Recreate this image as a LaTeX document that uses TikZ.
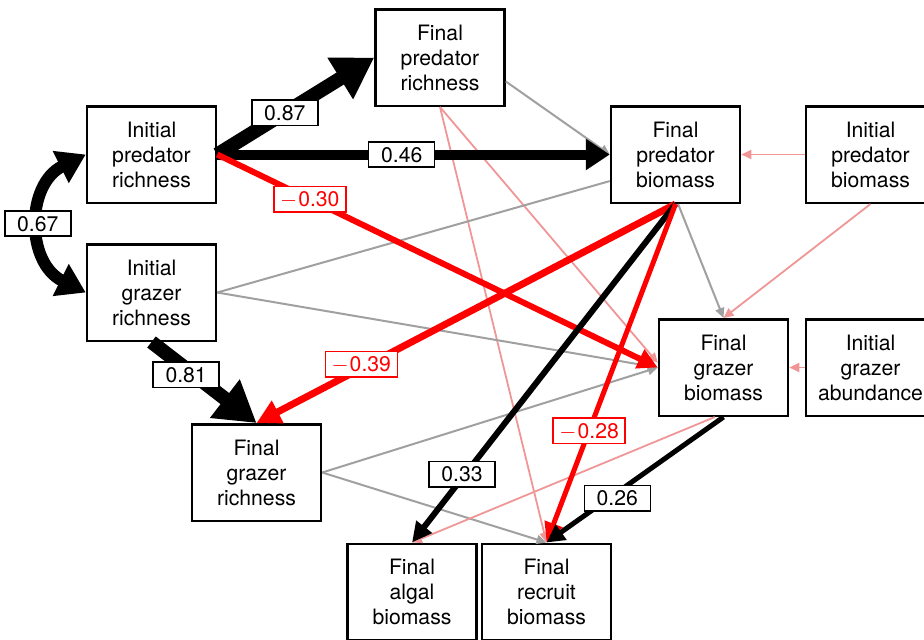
\documentclass[tikz,border=0pt]{standalone}
\usepackage{fontspec}
\setmainfont{TeX Gyre Heros}
\usetikzlibrary{arrows.meta}
\definecolor{lgray}{RGB}{160,160,160}
\definecolor{lpink}{RGB}{240,150,150}
\definecolor{myred}{RGB}{255,0,0}
\newcommand{\mns}{$-$\kern0.6pt}
\tikzset{
  varbox/.style={draw, line width=1.25pt, fill=white, minimum width=64.5pt, minimum height=48.25pt,
    align=center, inner sep=0pt, font=\fontsize{10.6}{12.5}\selectfont},
  coef/.style={draw, line width=0.75pt, fill=white, minimum width=33pt, text height=7.6pt,
    text depth=0pt, inner ysep=2.5pt, inner xsep=3pt, font=\fontsize{10.6}{12.5}\selectfont},
  rcoef/.style={coef, draw=myred, text=myred, minimum width=36pt},
  grayarr/.style={draw=lgray, line width=1pt, -{Triangle[length=5pt,width=4.5pt]}},
  grayplain/.style={draw=lgray, line width=1pt},
  pinkarr/.style={draw=lpink, line width=0.9pt, -{Triangle[length=5pt,width=4.5pt]}},
}
\begin{document}
\begin{tikzpicture}[x=0.5pt,y=-0.5pt]
\useasboundingbox (0,0) rectangle (924,639);
% nodes
\node[varbox] (IPR) at (151.5,154.5) {Initial\\predator\\richness};
\node[varbox] (IGR) at (151.5,292.5) {Initial\\grazer\\richness};
\node[varbox] (FPR) at (440,57.5) {Final\\predator\\richness};
\node[varbox] (FPB) at (675.5,154.5) {Final\\predator\\biomass};
\node[varbox] (IPB) at (870.5,154.5) {Initial\\predator\\biomass};
\node[varbox] (FGB) at (723.5,367.5) {Final\\grazer\\biomass};
\node[varbox] (IGA) at (870.5,367.5) {Initial\\grazer\\abundance};
\node[varbox] (FGR) at (256.5,472.5) {Final\\grazer\\richness};
\node[varbox] (FAB) at (412,592) {Final\\algal\\biomass};
\node[varbox] (FRB) at (546.5,592) {Final\\recruit\\biomass};
% thin gray and pink paths
\draw[grayarr] (FPR.-20) -- (FPB.west);
\draw[pinkarr] (FPR.south) -- (FGB.176);
\draw[pinkarr] (FPR.south) -- (FRB.north);
\draw[grayplain] (IGR.east) -- (FPB.202);
\draw[grayarr] (IGR.east) -- (FGB.west);
\draw[grayarr] (FGR.east) -- (FGB.west);
\draw[grayarr] (FGR.east) -- (FRB.north);
\draw[grayarr] (FPB.-87) -- (FGB.north);
\draw[pinkarr] (IPB.west) -- (FPB.east);
\draw[pinkarr] (IPB.south) -- (FGB.north);
\draw[pinkarr] (IGA.west) -- (FGB.east);
\draw[pinkarr] (FGB.260) -- (FAB.north);
% strong paths
\draw[black, line width=7pt, -{Triangle[length=20pt,width=23pt]}] (IPR.east) -- (FPR.west);
\draw[black, line width=5pt, -{Triangle[length=12pt,width=15pt]}] (IPR.east) -- (FPB.west);
\draw[myred, line width=3pt, -{Triangle[length=10pt,width=10pt]}] (IPR.east) -- (FGB.west);
\draw[black, line width=6pt, {Triangle[length=14pt,width=17pt]}-{Triangle[length=14pt,width=17pt]}]
  (IPR.west) .. controls +(-60,30) and +(-60,-30) .. (IGR.west);
\draw[black, line width=7pt, -{Triangle[length=20pt,width=23pt]}] (IGR.south) -- (FGR.north);
\draw[myred, line width=3.5pt, -{Triangle[length=12pt,width=12pt]}] (FPB.south) -- (FGR.north);
\draw[black, line width=3pt, -{Triangle[length=10pt,width=9.5pt]}] (FPB.south) -- (FAB.north);
\draw[myred, line width=2.5pt, -{Triangle[length=10pt,width=9pt]}] (FPB.south) -- (FRB.north);
\draw[black, line width=2.5pt, -{Triangle[length=9pt,width=9pt]}] (FGB.south) -- (FRB.north);
% coefficient labels
\path (IPR.east) -- node[coef, pos=0.43] {0.87} (FPR.west);
\path (IPR.east) -- node[coef, pos=0.47] {0.46} (FPB.west);
\path (IPR.east) -- node[rcoef, pos=0.21] {\mns0.30} (FGB.west);
\path (IPR.west) .. controls +(-60,30) and +(-60,-30) .. (IGR.west) node[coef, pos=0.5, xshift=-1.5pt] {0.67};
\path (IGR.south) -- node[coef, pos=0.33, yshift=-3pt] {0.81} (FGR.north);
\path (FPB.south) -- node[rcoef, pos=0.75, yshift=2pt] {\mns0.39} (FGR.north);
\path (FPB.south) -- node[coef, pos=0.81, yshift=2pt] {0.33} (FAB.north);
\path (FPB.south) -- node[rcoef, pos=0.67] {\mns0.28} (FRB.north);
\path (FGB.south) -- node[coef, pos=0.6, yshift=-3pt] {0.26} (FRB.north);
\end{tikzpicture}
\end{document}
